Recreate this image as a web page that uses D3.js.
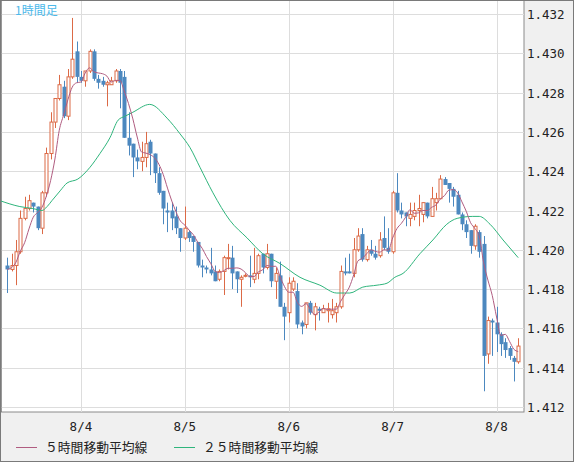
<!DOCTYPE html>
<html><head><meta charset="utf-8">
<script src="https://cdn.jsdelivr.net/npm/d3@7"></script>
<style>body{margin:0;background:#f0f0f0}svg{display:block}</style>
</head><body>
<script>
// OHLC per hourly candle: [open, high, low, close]
const candles = [
[1.4192,1.4196,1.4178,1.4190],[1.4190,1.4198,1.4189,1.4192],[1.4192,1.4205,1.4182,1.4199],[1.4199,1.4220,1.4198,1.4216],
[1.4216,1.4227,1.4215,1.4221],[1.4221,1.4228,1.4220,1.4225],[1.4224,1.4224,1.4219,1.4222],[1.4222,1.4222,1.4210,1.4211],
[1.4211,1.4230,1.4208,1.4229],[1.4229,1.4252,1.4227,1.4249],[1.4249,1.4270,1.4246,1.4265],[1.4265,1.4277,1.4262,1.4277],
[1.4277,1.4289,1.4276,1.4284],[1.4283,1.4286,1.4267,1.4268],[1.4268,1.4292,1.4266,1.4288],[1.4288,1.4318,1.4287,1.4297],
[1.4301,1.4306,1.4285,1.4288],[1.4288,1.4291,1.4285,1.4286],[1.4286,1.4291,1.4283,1.4291],[1.4291,1.4302,1.4290,1.4301],
[1.4301,1.4302,1.4286,1.4287],[1.4287,1.4289,1.4282,1.4285],[1.4286,1.4288,1.4283,1.4284],[1.4284,1.4286,1.4273,1.4285],
[1.4284,1.4288,1.4284,1.4286],[1.4286,1.4292,1.4285,1.4291],[1.4291,1.4292,1.4272,1.4285],[1.4288,1.4291,1.4257,1.4257],
[1.4257,1.4270,1.4248,1.4253],[1.4254,1.4254,1.4237,1.4247],[1.4247,1.4251,1.4241,1.4245],[1.4245,1.4255,1.4240,1.4247],
[1.4247,1.4260,1.4242,1.4254],[1.4255,1.4256,1.4238,1.4249],[1.4249,1.4249,1.4234,1.4239],[1.4239,1.4242,1.4228,1.4229],
[1.4230,1.4230,1.4213,1.4221],[1.4220,1.4224,1.4209,1.4219],[1.4220,1.4224,1.4210,1.4216],[1.4217,1.4222,1.4208,1.4211],
[1.4211,1.4211,1.4199,1.4206],[1.4206,1.4222,1.4205,1.4211],[1.4209,1.4210,1.4204,1.4206],[1.4207,1.4207,1.4199,1.4204],
[1.4204,1.4204,1.4191,1.4192],[1.4192,1.4195,1.4186,1.4191],[1.4191,1.4192,1.4188,1.4190],[1.4190,1.4201,1.4187,1.4188],
[1.4189,1.4192,1.4184,1.4184],[1.4185,1.4190,1.4184,1.4189],[1.4189,1.4197,1.4177,1.4196],[1.4196,1.4203,1.4190,1.4196],
[1.4196,1.4202,1.4180,1.4188],[1.4189,1.4189,1.4178,1.4185],[1.4185,1.4187,1.4171,1.4186],[1.4187,1.4188,1.4186,1.4187],
[1.4187,1.4197,1.4181,1.4186],[1.4185,1.4201,1.4183,1.4188],[1.4188,1.4198,1.4185,1.4197],[1.4198,1.4198,1.4188,1.4191],
[1.4191,1.4203,1.4190,1.4198],[1.4198,1.4198,1.4181,1.4184],[1.4184,1.4191,1.4175,1.4188],[1.4187,1.4194,1.4171,1.4171],
[1.4171,1.4173,1.4154,1.4166],[1.4168,1.4186,1.4163,1.4183],[1.4180,1.4186,1.4179,1.4184],[1.4179,1.4183,1.4160,1.4162],
[1.4163,1.4164,1.4157,1.4161],[1.4162,1.4173,1.4160,1.4173],[1.4173,1.4174,1.4167,1.4168],[1.4167,1.4173,1.4159,1.4171],
[1.4170,1.4171,1.4164,1.4169],[1.4168,1.4172,1.4168,1.4170],[1.4169,1.4173,1.4163,1.4170],[1.4167,1.4175,1.4165,1.4169],
[1.4168,1.4173,1.4163,1.4171],[1.4171,1.4192,1.4170,1.4189],[1.4189,1.4196,1.4187,1.4188],[1.4189,1.4198,1.4188,1.4188],
[1.4188,1.4206,1.4186,1.4200],[1.4200,1.4211,1.4199,1.4207],[1.4208,1.4211,1.4194,1.4195],[1.4195,1.4202,1.4194,1.4200],
[1.4200,1.4205,1.4197,1.4198],[1.4198,1.4202,1.4195,1.4196],[1.4197,1.4209,1.4196,1.4205],[1.4206,1.4217,1.4200,1.4201],
[1.4201,1.4211,1.4198,1.4199],[1.4199,1.4230,1.4198,1.4229],[1.4229,1.4239,1.4219,1.4220],[1.4220,1.4224,1.4216,1.4218],
[1.4219,1.4219,1.4212,1.4217],[1.4216,1.4224,1.4212,1.4218],[1.4217,1.4224,1.4215,1.4220],[1.4220,1.4228,1.4212,1.4221],
[1.4218,1.4224,1.4214,1.4224],[1.4224,1.4224,1.4216,1.4217],[1.4217,1.4232,1.4217,1.4226],[1.4224,1.4229,1.4220,1.4226],
[1.4226,1.4238,1.4226,1.4236],[1.4236,1.4237,1.4233,1.4233],[1.4234,1.4234,1.4224,1.4231],[1.4231,1.4232,1.4222,1.4227],
[1.4228,1.4230,1.4218,1.4218],[1.4218,1.4219,1.4210,1.4213],[1.4213,1.4215,1.4206,1.4209],[1.4210,1.4210,1.4198,1.4202],
[1.4202,1.4213,1.4200,1.4212],[1.4209,1.4210,1.4196,1.4199],[1.4203,1.4207,1.4128,1.4146],[1.4147,1.4166,1.4142,1.4164],
[1.4164,1.4165,1.4146,1.4163],[1.4163,1.4171,1.4148,1.4157],[1.4157,1.4158,1.4146,1.4152],[1.4153,1.4155,1.4145,1.4149],
[1.4150,1.4151,1.4144,1.4146],[1.4145,1.4146,1.4133,1.4143],[1.4143,1.4155,1.4142,1.4151]
];
// 25-period moving average: [candle index, value]
const ma25 = [
[-1.7,1.4225],[2.9,1.4222],[5.9,1.4221],[8.0,1.4220],[9.2,1.4222],[10.3,1.4225],[12.2,1.4230],[13.8,1.4234],
[16.3,1.4236],[19.1,1.4242],[21.4,1.4249],[23.7,1.4257],[25.6,1.4266],[27.2,1.4268],[29.0,1.4270],[32.9,1.4274],
[36.9,1.4267],[39.9,1.4259],[42.2,1.4252],[44.5,1.4242],[47.5,1.4229],[51.4,1.4215],[55.4,1.4206],[59.0,1.4198],
[63.0,1.4193],[67.6,1.4186],[72.2,1.4182],[76.1,1.4178],[79.1,1.4178],[82.1,1.4181],[85.4,1.4182],[87.7,1.4183],
[89.5,1.4186],[91.4,1.4188],[95.3,1.4198],[98.3,1.4205],[101.5,1.4213],[103.9,1.4216],[107.5,1.4217],[109,1.4217],
[111.5,1.4213],[114.5,1.4205],[118.0,1.4196]
];
const yTicks = [1.412,1.414,1.416,1.418,1.420,1.422,1.424,1.426,1.428,1.430,1.432];
const dateLabels = ["8/4","8/5","8/6","8/7","8/8"];
const dateIdx = [17,41,65,89,113];
const legendNames = ["５時間移動平均線","２５時間移動平均線"];

const W=574,H=462;
const svg=d3.select("body").append("svg").attr("width",W).attr("height",H);
const x=d3.scaleLinear().domain([0,118]).range([7.3,518.2]);
const y=d3.scaleLinear().domain([1.412,1.432]).range([407,14]);
const up="#dc6a46", dn="#4c88bf";

svg.append("rect").attr("x",1).attr("y",-1).attr("width",523).attr("height",413).attr("fill","#fff").attr("stroke","#8a8a8a");
const g=svg.append("g");
g.selectAll(".hg").data(yTicks).join("line").attr("x1",1).attr("x2",524)
 .attr("y1",d=>Math.round(y(d))+0.5).attr("y2",d=>Math.round(y(d))+0.5).attr("stroke","#dddddd");
g.selectAll(".vg").data(dateIdx).join("line").attr("y1",0).attr("y2",412)
 .attr("x1",d=>Math.round(x(d))+0.5).attr("x2",d=>Math.round(x(d))+0.5).attr("stroke","#dddddd");
svg.append("line").attr("x1",0.5).attr("x2",0.5).attr("y1",0).attr("y2",412).attr("stroke","#6f6f6f").attr("stroke-width",2);

// candles
const cg=svg.append("g");
candles.forEach((c,i)=>{
  const [o,h,l,cl]=c, isUp=cl>=o, col=isUp?up:dn, cx=Math.round(x(i))+0.5;
  cg.append("line").attr("x1",cx).attr("x2",cx).attr("y1",y(h)).attr("y2",y(l)).attr("stroke",col);
  const top=y(Math.max(o,cl)), bot=y(Math.min(o,cl)), hgt=Math.max(1,bot-top);
  if(isUp) cg.append("rect").attr("x",cx-1.5).attr("y",top).attr("width",3).attr("height",hgt).attr("fill","#fff").attr("stroke",col);
  else cg.append("rect").attr("x",cx-2).attr("y",top).attr("width",4).attr("height",hgt).attr("fill",col);
});

// MA5 computed from closes
const closes=candles.map(c=>c[3]);
const ma5=closes.map((v,i)=>{const s=closes.slice(Math.max(0,i-4),i+1);return [i,d3.mean(s)];});
const line=d3.line().x(d=>x(d[0])).y(d=>y(d[1])).curve(d3.curveMonotoneX);
svg.append("path").attr("d",line(ma25)).attr("fill","none").attr("stroke","#2fb57c").attr("stroke-width",1);
svg.append("path").attr("d",line(ma5)).attr("fill","none").attr("stroke","#b05c80").attr("stroke-width",1);

// axes labels
const mono="'DejaVu Sans Mono', monospace";
svg.selectAll(".yl").data(yTicks).join("text").attr("x",527).attr("y",d=>y(d)+5)
 .attr("font-family",mono).attr("font-size",12.5).attr("fill","#222").text(d=>d.toFixed(3));
svg.selectAll(".xl").data(dateIdx).join("text").attr("x",d=>x(d)).attr("y",431).attr("text-anchor","middle")
 .attr("font-family",mono).attr("font-size",12.5).attr("fill","#222").text((d,i)=>dateLabels[i]);
svg.append("text").attr("x",15).attr("y",15).attr("font-family","'Noto Sans CJK JP'").attr("font-size",12)
 .attr("fill","#4cb9ea").text("1時間足");
// legend
const lx=[16,174], lc=["#b05c80","#2fb57c"];
legendNames.forEach((n,i)=>{
  svg.append("line").attr("x1",lx[i]).attr("x2",lx[i]+21).attr("y1",447.5).attr("y2",447.5).attr("stroke",lc[i]);
  svg.append("text").attr("x",lx[i]+29).attr("y",452).attr("font-family","'Noto Sans CJK JP'").attr("font-size",12.8)
   .attr("fill","#222").text(n);
});
svg.append("rect").attr("x",0.5).attr("y",0.5).attr("width",573).attr("height",461).attr("fill","none").attr("stroke","#7a7a7a");
</script>
</body></html>
